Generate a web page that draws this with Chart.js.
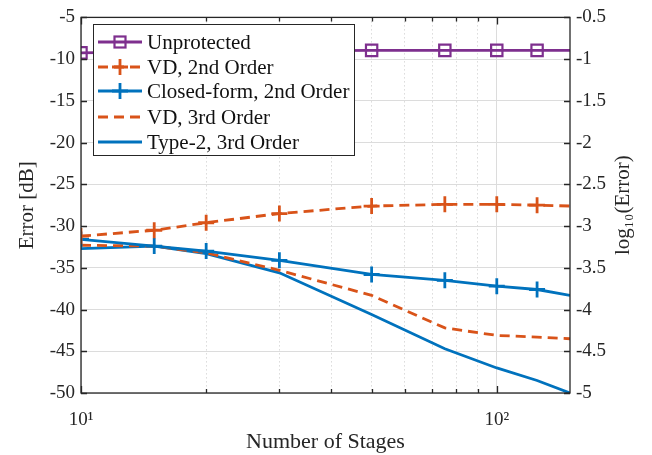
<!DOCTYPE html>
<html>
<head>
<meta charset="utf-8">
<script src="https://cdn.jsdelivr.net/npm/chart.js@4.4.0/dist/chart.umd.min.js"></script>
<style>
  html, body { margin: 0; padding: 0; background: #fff; }
  #wrap { width: 652px; height: 455px; }
</style>
</head>
<body>
<div id="wrap"><canvas id="errChart" width="652" height="455"></canvas></div>
<script>
const stages = [10, 15, 20, 30, 50, 75, 100, 125, 150];

const unprotected = [-9.25, -9.1, -9.05, -9.0, -8.95, -8.95, -8.95, -8.95, -8.95];
const vd2nd = [-31.2, -30.5, -29.6, -28.5, -27.6, -27.4, -27.4, -27.5, -27.6];
const closedForm2nd = [-31.6, -32.4, -33.0, -34.1, -35.8, -36.5, -37.2, -37.6, -38.3];
const vd3rd = [-32.3, -32.4, -33.2, -35.3, -38.3, -42.2, -43.1, -43.3, -43.5];
const type2_3rd = [-32.7, -32.4, -33.3, -35.6, -40.6, -44.7, -47.0, -48.5, -50.0];

const yTicks = [-50, -45, -40, -35, -30, -25, -20, -15, -10, -5];
const y2Ticks = [-5, -4.5, -4, -3.5, -3, -2.5, -2, -1.5, -1, -0.5];
const xMajor = [10, 100];
const xMinor = [20, 30, 40, 50, 60, 70, 80, 90];

const PURPLE = '#7E2F8E';
const ORANGE = '#D95319';
const BLUE = '#0072BD';
const SERIF = '"Liberation Serif", "Times New Roman", serif';
const LW = 2.8;

const pts = arr => arr.map((v, i) => ({ x: stages[i], y: v }));
const markerRadius = (r) => stages.map((s, i) => (i === stages.length - 1 ? 0 : r));

const datasets = [
  {
    label: 'Unprotected',
    data: pts(unprotected),
    borderColor: PURPLE,
    backgroundColor: 'rgba(0,0,0,0)',
    borderWidth: LW,
    pointStyle: 'rect',
    pointRadius: markerRadius(8),
    pointBorderWidth: 2.2,
    pointBorderColor: PURPLE,
    tension: 0
  },
  {
    label: 'VD, 2nd Order',
    data: pts(vd2nd),
    borderColor: ORANGE,
    backgroundColor: ORANGE,
    borderWidth: LW,
    borderDash: [10, 6],
    pointStyle: 'cross',
    pointRadius: markerRadius(8),
    pointBorderWidth: LW,
    pointBorderColor: ORANGE,
    tension: 0
  },
  {
    label: 'Closed-form, 2nd Order',
    data: pts(closedForm2nd),
    borderColor: BLUE,
    backgroundColor: BLUE,
    borderWidth: LW,
    pointStyle: 'cross',
    pointRadius: markerRadius(8),
    pointBorderWidth: LW,
    pointBorderColor: BLUE,
    tension: 0
  },
  {
    label: 'VD, 3rd Order',
    data: pts(vd3rd),
    borderColor: ORANGE,
    borderWidth: LW,
    borderDash: [10, 6],
    pointRadius: 0,
    tension: 0
  },
  {
    label: 'Type-2, 3rd Order',
    data: pts(type2_3rd),
    borderColor: BLUE,
    borderWidth: LW,
    pointRadius: 0,
    tension: 0
  }
];

// box, inward ticks, right title and legend drawn after the datasets
const boxAndLegend = {
  id: 'boxAndLegend',
  afterDatasetsDraw(chart) {
    const { ctx, chartArea: a, scales } = chart;
    ctx.save();
    ctx.strokeStyle = '#262626';
    ctx.lineWidth = 1.3;
    ctx.strokeRect(a.left, a.top, a.right - a.left, a.bottom - a.top);

    ctx.beginPath();
    yTicks.forEach(v => {
      const y = Math.round(scales.y.getPixelForValue(v)) + 0.5;
      ctx.moveTo(a.left, y); ctx.lineTo(a.left + 6, y);
      ctx.moveTo(a.right, y); ctx.lineTo(a.right - 6, y);
    });
    xMajor.concat(xMinor).forEach(v => {
      const x = Math.round(scales.x.getPixelForValue(v)) + 0.5;
      const len = xMajor.includes(v) ? 7 : 4;
      ctx.moveTo(x, a.bottom); ctx.lineTo(x, a.bottom - len);
      ctx.moveTo(x, a.top); ctx.lineTo(x, a.top + len);
    });
    ctx.stroke();

    // right axis title, reading bottom to top
    ctx.save();
    ctx.translate(623, (a.top + a.bottom) / 2);
    ctx.rotate(-Math.PI / 2);
    ctx.fillStyle = '#262626';
    ctx.textAlign = 'center';
    ctx.textBaseline = 'middle';
    ctx.font = '21px ' + SERIF;
    ctx.fillText('log\u2081\u2080(Error)', 0, 0);
    ctx.restore();

    // legend
    const lx = 93, ly = 24, lw = 261, lh = 131;
    ctx.fillStyle = '#fff';
    ctx.fillRect(lx, ly, lw, lh);
    ctx.strokeStyle = '#262626';
    ctx.lineWidth = 1;
    ctx.strokeRect(lx + 0.5, ly + 0.5, lw, lh);
    ctx.font = '21px ' + SERIF;
    ctx.textBaseline = 'middle';
    ctx.textAlign = 'left';
    const rowY = [42, 67, 91, 117, 142];
    chart.data.datasets.forEach((ds, i) => {
      const y = rowY[i];
      ctx.strokeStyle = ds.borderColor;
      ctx.lineWidth = LW;
      ctx.setLineDash(ds.borderDash || []);
      ctx.beginPath();
      ctx.moveTo(98, y); ctx.lineTo(142, y);
      ctx.stroke();
      ctx.setLineDash([]);
      if (ds.pointStyle === 'rect') {
        ctx.lineWidth = 2.2;
        ctx.strokeRect(114.5, y - 5.5, 11, 11);
      } else if (ds.pointStyle === 'cross') {
        ctx.beginPath();
        ctx.moveTo(120, y - 8); ctx.lineTo(120, y + 8);
        ctx.moveTo(112, y); ctx.lineTo(128, y);
        ctx.stroke();
      }
      ctx.fillStyle = '#111';
      ctx.fillText(ds.label, 147, y + 1);
    });
    ctx.restore();
  }
};

const ctx = document.getElementById('errChart').getContext('2d');

const config = {
  type: 'line',
  data: { datasets: datasets },
  options: {
    responsive: false,
    animation: false,
    layout: { padding: { top: 13, left: 0, right: 0, bottom: 0 } },
    plugins: {
      legend: { display: false },
      tooltip: { enabled: false }
    },
    scales: {
      x: {
        type: 'logarithmic',
        min: 10,
        max: 150,
        afterBuildTicks: s => { s.ticks = xMajor.map(v => ({ value: v })); },
        afterFit: s => { s.height = 62; },
        grid: { color: '#dcdcdc', lineWidth: 1, drawTicks: false },
        border: { display: false },
        ticks: {
          padding: 16,
          color: '#262626',
          font: { family: SERIF, size: 19 },
          maxRotation: 0,
          callback: v => (v === 10 ? '10\u00B9' : v === 100 ? '10\u00B2' : '')
        },
        title: {
          display: true,
          text: 'Number of Stages',
          color: '#262626',
          font: { family: SERIF, size: 22 },
          padding: { top: 2, bottom: 0 }
        }
      },
      xMinor: {
        type: 'logarithmic',
        position: 'bottom',
        min: 10,
        max: 150,
        afterBuildTicks: s => { s.ticks = xMinor.map(v => ({ value: v })); },
        afterFit: s => { s.height = 0; },
        grid: { color: '#c8c8c8', lineWidth: 1, drawTicks: false },
        border: { display: false, dash: [1, 3] },
        ticks: { display: false }
      },
      y: {
        position: 'left',
        min: -50,
        max: -5,
        afterBuildTicks: s => { s.ticks = yTicks.map(v => ({ value: v })); },
        afterFit: s => { s.width = 81; },
        grid: { color: '#dcdcdc', lineWidth: 1, drawTicks: false },
        border: { display: false },
        ticks: {
          padding: 6,
          color: '#262626',
          font: { family: SERIF, size: 19 }
        },
        title: {
          display: true,
          text: 'Error [dB]',
          color: '#262626',
          font: { family: SERIF, size: 21 },
          padding: { top: 15, bottom: 0 }
        }
      },
      y2: {
        position: 'right',
        min: -5,
        max: -0.5,
        afterBuildTicks: s => { s.ticks = y2Ticks.map(v => ({ value: v })); },
        afterFit: s => { s.width = 82; },
        grid: { drawOnChartArea: false, drawTicks: false },
        border: { display: false },
        ticks: {
          padding: 6,
          color: '#262626',
          font: { family: SERIF, size: 19 },
          callback: v => String(v)
        }
      }
    }
  },
  plugins: [boxAndLegend]
};

var errChart = new Chart(ctx, config);
</script>
</body>
</html>
